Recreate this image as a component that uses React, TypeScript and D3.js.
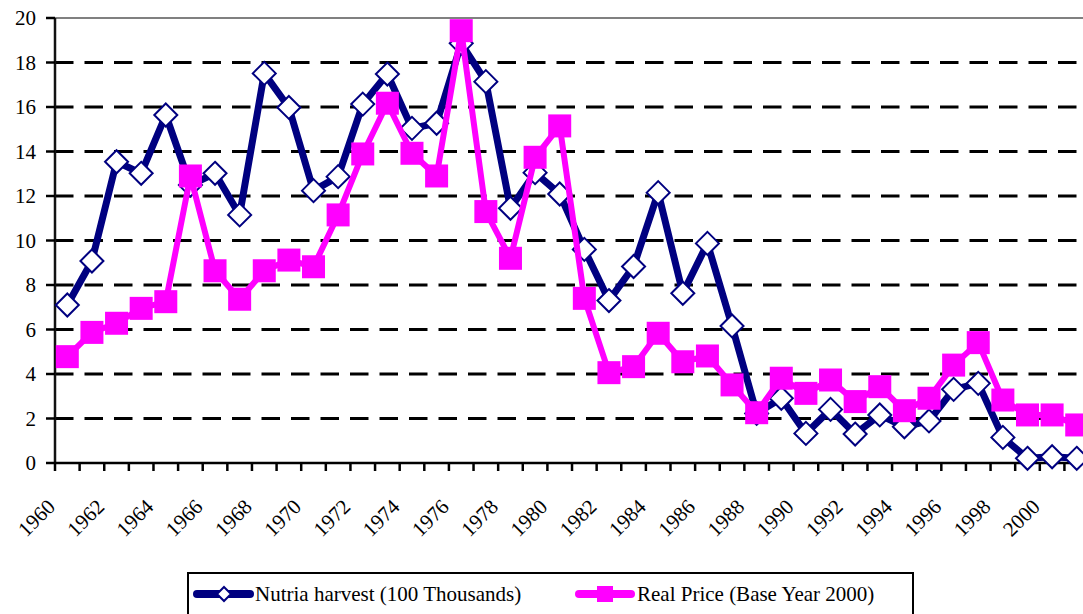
import React from 'react';
import * as d3 from 'd3';

// years on the category axis
const years: number[] = d3.range(1960, 2002);

// Nutria harvest (100 Thousands)
const harvest: number[] = [
  7.1, 9.08, 13.54, 13.02, 15.64, 12.49, 13.02, 11.15, 17.51, 15.98,
  12.24, 12.87, 16.13, 17.48, 15.04, 15.27, 18.86, 17.14, 11.45, 13.05,
  12.09, 9.6, 7.3, 8.83, 12.15, 7.63, 9.87, 6.16, 2.23, 2.91,
  1.33, 2.41, 1.3, 2.16, 1.63, 1.89, 3.31, 3.58, 1.15, 0.21,
  0.28, 0.21,
];

// Real Price (Base Year 2000)
const price: number[] = [
  4.78, 5.87, 6.28, 6.95, 7.25, 12.9, 8.64, 7.36, 8.64, 9.12,
  8.82, 11.15, 13.89, 16.17, 13.92, 12.9, 19.43, 11.3, 9.2, 13.74,
  15.15, 7.4, 4.06, 4.33, 5.83, 4.55, 4.81, 3.51, 2.26, 3.81,
  3.13, 3.73, 2.76, 3.43, 2.35, 2.91, 4.4, 5.41, 2.83, 2.16,
  2.16, 1.71,
];

const yTicks: number[] = [0, 2, 4, 6, 8, 10, 12, 14, 16, 18, 20];
const xLabels: number[] = years.filter(y => y % 2 === 0);

const NAVY = '#000080';
const MAGENTA = '#FF00FF';
const FONT = 'Liberation Serif';

const width = 1083;
const height = 614;
const left = 55;
const step = 24.62;

const x = d3.scaleBand<string>()
  .domain(years.map(String))
  .range([left, left + step * years.length])
  .padding(0);
const cx = (yr: number) => (x(String(yr)) ?? 0) + x.bandwidth() / 2;
const y = d3.scaleLinear().domain([0, 20]).range([463, 18]);

const line = d3.line<number>()
  .x((d, i) => cx(years[i]))
  .y(d => y(d));

const diamond = (s: number) => `M0,${-s}L${s},0L0,${s}L${-s},0Z`;

export default function App() {
  const y0 = y(0);
  return (
    <div style={{ position: 'absolute', left: 0, top: 0, width, height, background: '#fff' }}>
      <svg width={width} height={height} style={{ display: 'block' }}>
        {/* top border of plot area */}
        <line x1={left} x2={width} y1={y(20)} y2={y(20)} stroke="#808080" strokeWidth={2} />

        {/* dashed gridlines */}
        {yTicks.filter(t => t > 0 && t < 20).map(t => (
          <line key={t} x1={left} x2={width} y1={y(t)} y2={y(t)}
            stroke="#000" strokeWidth={3} strokeDasharray="18.5,11" />
        ))}

        {/* y axis */}
        <line x1={left} x2={left} y1={y(20)} y2={y0} stroke="#111" strokeWidth={2.5} />
        {yTicks.map(t => (
          <g key={t}>
            <line x1={left - 9} x2={left} y1={y(t)} y2={y(t)} stroke="#000" strokeWidth={2.5} />
            <text x={36} y={y(t) + 7} textAnchor="end" fontFamily={FONT} fontSize={21}>{t}</text>
          </g>
        ))}

        {/* x axis */}
        <line x1={left} x2={width} y1={y0} y2={y0} stroke="#000" strokeWidth={2.5} />
        {d3.range(years.length + 1).map(i => (
          <line key={i} x1={left + i * x.bandwidth()} x2={left + i * x.bandwidth()}
            y1={y0} y2={y0 + 8} stroke="#000" strokeWidth={2.5} />
        ))}
        {xLabels.map(yr => (
          <g key={yr} transform={`translate(${cx(yr) - 11},${y0 + 45})`}>
            <text transform="rotate(-45)" textAnchor="end" fontFamily={FONT} fontSize={21}>{yr}</text>
          </g>
        ))}

        {/* harvest series */}
        <path d={line(harvest) ?? ''} fill="none" stroke={NAVY} strokeWidth={7} strokeLinejoin="round" />
        {harvest.map((v, i) => (
          <path key={i} transform={`translate(${cx(years[i])},${y(v)})`} d={diamond(11.5)}
            fill="#fff" stroke={NAVY} strokeWidth={2} />
        ))}

        {/* price series */}
        <path d={line(price) ?? ''} fill="none" stroke={MAGENTA} strokeWidth={6} strokeLinejoin="round" />
        {price.map((v, i) => (
          <rect key={i} x={cx(years[i]) - 11.5} y={y(v) - 11.5} width={23} height={23} fill={MAGENTA} />
        ))}

        {/* legend */}
        <rect x={188} y={573} width={725} height={60} fill="#fff" stroke="#000" strokeWidth={2} />
        <line x1={197} x2={250} y1={594} y2={594} stroke={NAVY} strokeWidth={8} strokeLinecap="round" />
        <path transform="translate(224,594)" d={diamond(7)} fill="#fff" stroke={NAVY} strokeWidth={2} />
        <text x={255} y={601} fontFamily={FONT} fontSize={21}>Nutria harvest (100 Thousands)</text>
        <line x1={579} x2={631} y1={594} y2={594} stroke={MAGENTA} strokeWidth={8} strokeLinecap="round" />
        <rect x={597} y={586} width={16} height={16} fill={MAGENTA} />
        <text x={637} y={601} fontFamily={FONT} fontSize={21}>Real Price (Base Year 2000)</text>
      </svg>
    </div>
  );
}
